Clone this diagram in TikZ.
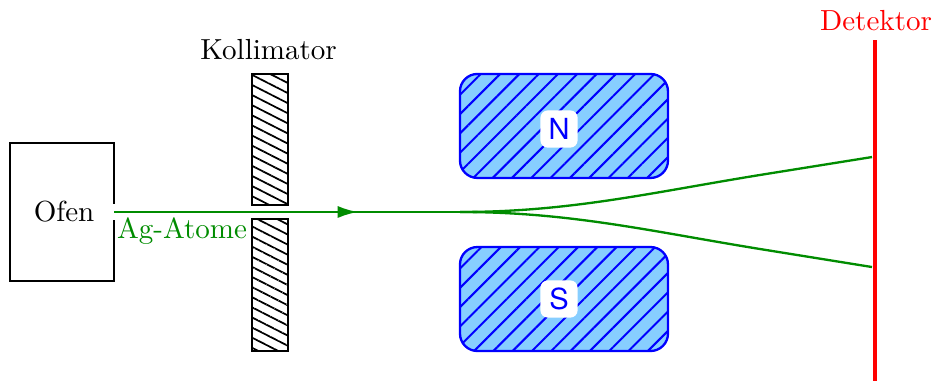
\documentclass[tikz,border=0pt]{standalone}
\usepackage{fontspec}
\setsansfont{TeX Gyre Heros}
\usepackage[dvipsnames]{xcolor}
\usepackage{tikz}
\usetikzlibrary{arrows.meta, patterns.meta}

\definecolor{magnetfill}{RGB}{135,206,255}
\definecolor{beamgreen}{RGB}{0,140,0}

\begin{document}
\begin{tikzpicture}[
  every node/.style={font=\normalsize},
  ofenbox/.style={rectangle, draw, thick, inner sep=0pt, outer sep=0pt, minimum width=1.26cm, minimum height=1.67cm},
  spalt/.style={rectangle, draw, thick, inner sep=0pt, outer sep=0pt, minimum width=0.436cm, minimum height=1.59cm,
    pattern={Lines[angle=-27, distance=3.1pt, line width=0.6pt]}},
  magnet/.style={rectangle, draw=blue, thick, rounded corners=6pt, inner sep=0pt, outer sep=0pt,
    minimum width=2.517cm, minimum height=1.258cm, preaction={fill=magnetfill},
    pattern={Lines[angle=45, distance=4.7pt, line width=0.7pt]}, pattern color=blue},
  pol/.style={rectangle, fill=white, rounded corners=2.5pt, text=blue, font=\sffamily, inner sep=0pt, minimum size=12.8pt},
  beam/.style={thick, beamgreen},
]
  \useasboundingbox (0, 0) rectangle (11.277, 4.61);

  % Ofen
  \node[ofenbox] (ofen) at (0.75, 2.045) {};
  \node (ofentext) at (0.775, 2.045) {Ofen};
  \node[rectangle, fill=white, inner sep=0pt, minimum width=2pt, minimum height=0.2cm] (loch) at (ofen.east) {};

  % Kollimator
  \node[spalt] (spaltoben) at (3.267, 2.922) {};
  \node[spalt] (spaltunten) at (3.267, 1.162) {};
  \node (kollimator) at (3.25, 4.005) {Kollimator};

  % Magnet
  \node[magnet] (nord) at (6.824, 3.086) {};
  \node[magnet] (sued) at (6.824, 0.992) {};
  \node[pol] (n) at (6.764, 3.049) {N};
  \node[pol] (s) at (6.764, 0.992) {S};

  % Detektor
  \coordinate (detoben) at (10.588, 4.126);
  \coordinate (detunten) at (10.588, 0);
  \draw[red, line width=1.6pt] (detoben) -- (detunten);
  \node[red] (detektor) at (10.6, 4.356) {Detektor};

  % Strahl
  \coordinate (pfeil) at (4.33, 2.045);
  \coordinate (teilung) at (5.566, 2.045);
  \coordinate (obenmitte) at (9.196, 2.493);
  \coordinate (untenmitte) at (9.196, 1.597);
  \coordinate (obenende) at (10.551, 2.710);
  \coordinate (untenende) at (10.551, 1.379);
  \draw[beam] (ofen.east) -- (teilung);
  \draw[beam, -{Latex[length=7pt, width=4.2pt]}] (ofen.east) -- (pfeil);
  \draw[beam] (teilung) .. controls (6.897, 2.045) and (7.865, 2.277) .. (obenmitte) -- (obenende);
  \draw[beam] (teilung) .. controls (6.897, 2.045) and (7.865, 1.813) .. (untenmitte) -- (untenende);
  \node[text=beamgreen] (atome) at (2.202, 1.815) {Ag-Atome};
\end{tikzpicture}
\end{document}
